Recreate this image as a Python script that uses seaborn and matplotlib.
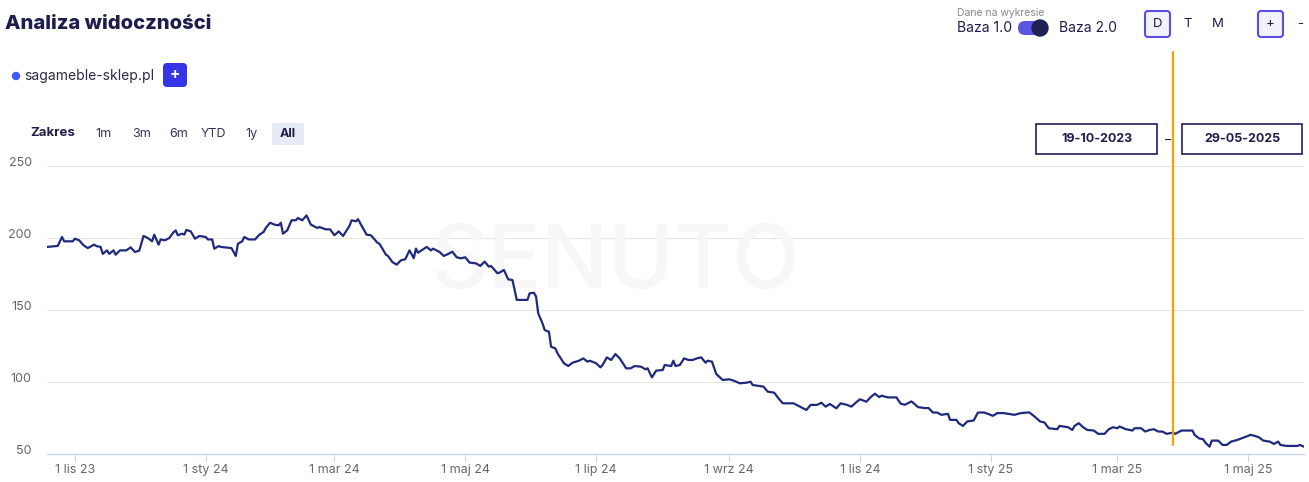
import numpy as np
import pandas as pd
import matplotlib
matplotlib.use("Agg")
import matplotlib.pyplot as plt
from matplotlib.patches import FancyBboxPatch, Circle, Rectangle
from matplotlib.transforms import IdentityTransform
import seaborn as sns

# ---------------- data ----------------
start_date = "2023-10-19"
day_offset = [
    0, 5, 7, 8, 12, 13, 15, 17, 19, 22, 23, 25, 26, 28, 29, 31, 32, 34, 37, 39,
    41, 43, 45, 47, 49, 50, 52, 53, 55, 57, 59, 60, 61, 63, 64, 65, 67, 69, 71, 74,
    75, 77, 78, 80, 81, 86, 88, 89, 91, 92, 94, 97, 99, 101, 102, 104, 106, 108, 109, 110,
    112, 114, 116, 117, 119, 121, 123, 126, 127, 130, 132, 134, 136, 138, 141, 142, 144, 145, 147, 149,
    151, 154, 155, 158, 159, 161, 163, 165, 167, 169, 171, 172, 173, 177, 179, 180, 183,
    185, 187, 189, 191, 193, 195, 197, 200, 202, 204, 206, 207, 210, 211, 213, 215, 217, 219, 224,
    225, 227, 228, 229, 231, 232, 234, 235, 237, 238, 241, 243, 245, 248, 250, 252, 253, 256, 258, 259,
    261, 263, 265, 267, 270, 272, 274, 277, 279, 280, 282, 284, 287, 288, 291, 292, 293, 295, 297, 299,
    301, 303, 305, 307, 308, 310, 312, 315, 318, 320, 323, 326, 328, 329, 332, 334, 336, 339, 341, 343,
    348, 351, 354, 356, 359, 361, 363, 365, 368, 370, 373, 375, 377, 379, 382,
    384, 386, 388, 389, 392, 396, 398, 400, 403, 404, 406, 409, 411, 413, 415, 417, 420, 421, 424, 425,
    427, 429, 432, 434, 437, 441, 443, 446, 448, 451, 454, 457, 458, 460, 463, 465, 467, 471, 472, 476,
    478, 479, 481, 483, 485, 488, 490, 493, 495, 497, 499, 500, 503, 506, 507, 510, 512, 514, 516, 518,
    520, 522, 525, 526, 528, 529, 534, 535, 537, 539, 540, 542, 543, 546, 548, 550, 552, 555, 557, 560,
    561, 563, 565, 567, 570, 572, 574, 575, 578, 583, 584, 586,
]
visibility = [
    193.8, 194.5, 200.7, 197.7, 197.7, 199.5, 198.4, 195.0, 193.0, 195.4, 194.4, 193.8, 189.0, 191.4, 189.0, 191.4, 188.4, 191.4, 191.4, 193.5,
    190.3, 191.2, 201.4, 200.0, 197.7, 202.3, 195.4, 199.0, 198.4, 200.0, 204.0, 205.3, 201.9, 203.0, 202.3, 205.6, 204.6, 199.5, 201.4, 200.7,
    199.0, 199.0, 192.6, 194.4, 193.8, 193.0, 187.5, 196.0, 197.7, 200.7, 199.0, 199.0, 202.3, 204.2, 207.0, 210.6, 209.3, 208.8, 210.6, 203.0,
    205.3, 212.3, 212.3, 213.9, 212.3, 215.7, 209.3, 207.0, 207.6, 206.0, 206.0, 201.9, 204.6, 201.4, 208.3, 212.3, 211.6, 213.0, 207.6, 202.3,
    201.9, 196.8, 196.0, 188.4, 187.5, 183.3, 181.5, 184.5, 185.2, 191.4, 186.0, 192.6, 189.8, 193.8, 191.4, 192.6, 190.3,
    187.5, 188.9, 190.5, 186.6, 185.9, 186.6, 182.9, 182.4, 180.6, 183.6, 180.1, 180.6, 175.5, 176.0, 177.8, 171.3, 170.8, 157.0, 157.0,
    161.6, 162.0, 159.3, 147.7, 140.7, 136.1, 134.9, 124.5, 123.3, 119.9, 113.0, 111.1, 113.4, 114.8, 116.4, 114.1, 114.8, 113.0, 110.2, 111.8,
    117.1, 115.3, 119.4, 116.4, 109.5, 109.5, 111.1, 110.6, 108.8, 109.5, 103.2, 107.9, 108.3, 111.8, 111.1, 114.8, 111.1, 111.8, 116.4, 115.3,
    115.3, 116.4, 117.1, 113.4, 114.8, 114.1, 105.6, 101.4, 101.9, 101.0, 99.1, 99.5, 100.2, 97.9, 97.2, 96.8, 93.3, 92.6, 88.7, 85.2,
    85.2, 82.9, 80.6, 84.1, 84.1, 85.6, 82.9, 84.7, 81.7, 85.2, 84.1, 82.9, 85.6, 88.0, 86.3,
    89.5, 91.9, 89.5, 90.5, 89.3, 89.3, 84.9, 84.2, 86.5, 85.3, 82.6, 81.9, 81.9, 78.8, 78.8, 77.2, 77.9, 73.7, 73.7, 71.4,
    69.5, 72.6, 73.3, 78.8, 78.8, 76.5, 78.4, 78.4, 77.9, 77.2, 78.4, 78.8, 78.8, 76.5, 72.6, 71.9, 67.9, 67.2, 69.5, 68.6,
    66.7, 69.5, 71.4, 68.6, 66.7, 66.3, 64.0, 64.0, 67.2, 68.6, 67.9, 69.1, 67.2, 66.3, 67.9, 67.9, 65.6, 66.7, 67.2, 65.6,
    65.6, 64.0, 64.9, 64.0, 65.6, 66.3, 66.3, 63.3, 60.9, 60.2, 57.9, 55.1, 59.3, 59.3, 56.3, 56.3, 58.6, 59.8, 60.9, 62.6,
    63.3, 62.6, 61.6, 59.3, 58.6, 57.0, 58.6, 56.3, 55.6, 55.6, 56.3, 55.1,
]
y_ticks = [50, 100, 150, 200, 250]
x_tick_dates = ["2023-11-01", "2024-01-01", "2024-03-01", "2024-05-01", "2024-07-01",
                "2024-09-01", "2024-11-01", "2025-01-01", "2025-03-01", "2025-05-01"]
x_tick_labels = ["1 lis 23", "1 sty 24", "1 mar 24", "1 maj 24", "1 lip 24",
                 "1 wrz 24", "1 lis 24", "1 sty 25", "1 mar 25", "1 maj 25"]
marker_date = "2025-03-27"
range_buttons = ["1m", "3m", "6m", "YTD", "1y", "All"]
date_from = "19-10-2023"
date_to = "29-05-2025"
domain = "sagameble-sklep.pl"
title = "Analiza widoczności"

# ---------------- style ----------------
sns.set_theme(style="white")
plt.rcParams['font.family'] = ['Inter', 'DejaVu Sans']

W, H = 1309, 482
fig = plt.figure(figsize=(W / 100, H / 100), dpi=100)
fig.patch.set_facecolor("white")

AX_L, AX_R, AX_T, AX_B = 47, 1304, 166, 454
ax = fig.add_axes([AX_L / W, (H - AX_B) / H, (AX_R - AX_L) / W, (AX_B - AX_T) / H])

dates = pd.to_datetime(start_date) + pd.to_timedelta(day_offset, unit="D")
df = pd.DataFrame({"date": dates, "value": visibility})

NAVY = "#1f2a7c"
sns.lineplot(data=df, x="date", y="value", ax=ax, color=NAVY, linewidth=1.6, zorder=4)

ax.set_xlim(dates.min(), dates.max())
ax.set_ylim(50, 250)
ax.set_xlabel("")
ax.set_ylabel("")

ax.set_yticks(y_ticks)
ax.set_yticklabels([str(v) for v in y_ticks], va="baseline")
ax.tick_params(axis="y", length=0, pad=11, labelcolor="#666666", labelsize=9)
ax.set_xticks(pd.to_datetime(x_tick_dates))
ax.set_xticklabels(x_tick_labels)
ax.tick_params(axis="x", length=5.5, width=0.8, color="#ccd6eb", pad=1.5,
               labelcolor="#666666", labelsize=9, bottom=True)
ax.yaxis.grid(True, color="#e6e6e6", linewidth=0.8)
ax.xaxis.grid(False)
for s in ["top", "right", "left"]:
    ax.spines[s].set_visible(False)
ax.spines["bottom"].set_color("#ccd6eb")
ax.spines["bottom"].set_linewidth(1.0)

# watermark
ax.text(0.452, 0.655, "SENUTO", transform=ax.transAxes, fontsize=64,
        color="#f7f7f7", ha="center", va="center", zorder=1, fontweight="medium")

# orange marker line
ax.axvline(pd.Timestamp(marker_date), ymin=(AX_B - 445) / (AX_B - AX_T),
           ymax=(AX_B - 52) / (AX_B - AX_T), color="#f5a300", linewidth=1.6,
           clip_on=False, zorder=6)

# ---------------- UI chrome (pixel helpers) ----------------
ID = IdentityTransform()


def px(x, y):
    return x / W, 1 - y / H


def rbox(x0, y0, x1, y1, fc, ec="none", lw=0, r=3):
    p = FancyBboxPatch((x0, H - y1), x1 - x0, y1 - y0,
                       boxstyle=f"round,pad=0,rounding_size={r}",
                       fc=fc, ec=ec, lw=lw, transform=ID)
    fig.add_artist(p)


DARK = "#1f1d4d"
TXT = "#2b2b45"

fig.text(*px(5, 24), title, fontsize=14.5, fontweight="heavy", color=DARK,
         va="center", ha="left")

fig.add_artist(Circle((16, H - 76), 3.5, color="#3b5bfd", transform=ID))
fig.text(*px(24, 76), domain, fontsize=10, color=TXT, va="center", ha="left")
rbox(163, 63, 187, 87, "#3535e8", r=4)
fig.text(*px(175, 75), "+", fontsize=11, color="white", fontweight="bold",
         va="center", ha="center")

# range row
fig.text(*px(30, 133), "Zakres", fontsize=9.5, fontweight="bold", color=DARK,
         va="center", ha="left")
rbox(272, 123, 304, 145, "#e6ebf5", r=2)
for lab, cx in zip(range_buttons, [103, 142, 179, 213, 251, 288]):
    fig.text(*px(cx, 134), lab, fontsize=9, color=DARK if lab == "All" else "#333355",
             fontweight="bold" if lab == "All" else "normal", va="center", ha="center")

# date boxes
for (x0, x1), lab in zip([(1036, 1157), (1182, 1302)], [date_from, date_to]):
    fig.add_artist(Rectangle((x0, H - 154), x1 - x0, 30, fc="white", ec="#1f1f5f",
                             lw=1.2, transform=ID))
    fig.text(*px((x0 + x1) / 2, 139), lab, fontsize=9, fontweight="bold",
             color=DARK, va="center", ha="center")
fig.text(*px(1168, 140), "–", fontsize=9, color=DARK, va="center", ha="center")

# top-right controls
fig.text(*px(957, 13), "Dane na wykresie", fontsize=7.5, color="#888888",
         va="center", ha="left")
fig.text(*px(957, 28), "Baza 1.0", fontsize=10, color=DARK, va="center", ha="left")
rbox(1018, 21, 1048, 35, "#5b55e6", r=7)
fig.add_artist(Circle((1040, H - 28), 8, color="#1f2255", transform=ID))
fig.text(*px(1059, 28), "Baza 2.0", fontsize=10, color=DARK, va="center", ha="left")

rbox(1145, 11, 1170, 37, "#f2f2fa", ec="#5a50e0", lw=1.5, r=3)
fig.text(*px(1157.5, 24), "D", fontsize=9.5, color=DARK, va="center", ha="center")
fig.text(*px(1188, 24), "T", fontsize=9.5, color=DARK, va="center", ha="center")
fig.text(*px(1218, 24), "M", fontsize=9.5, color=DARK, va="center", ha="center")
rbox(1258, 11, 1283, 37, "#f2f2fa", ec="#5a50e0", lw=1.5, r=3)
fig.text(*px(1270.5, 24), "+", fontsize=9.5, color=DARK, va="center", ha="center")
fig.text(*px(1300, 24), "-", fontsize=9.5, color=DARK, va="center", ha="center")

fig.savefig("out.png", dpi=100, facecolor="white")
